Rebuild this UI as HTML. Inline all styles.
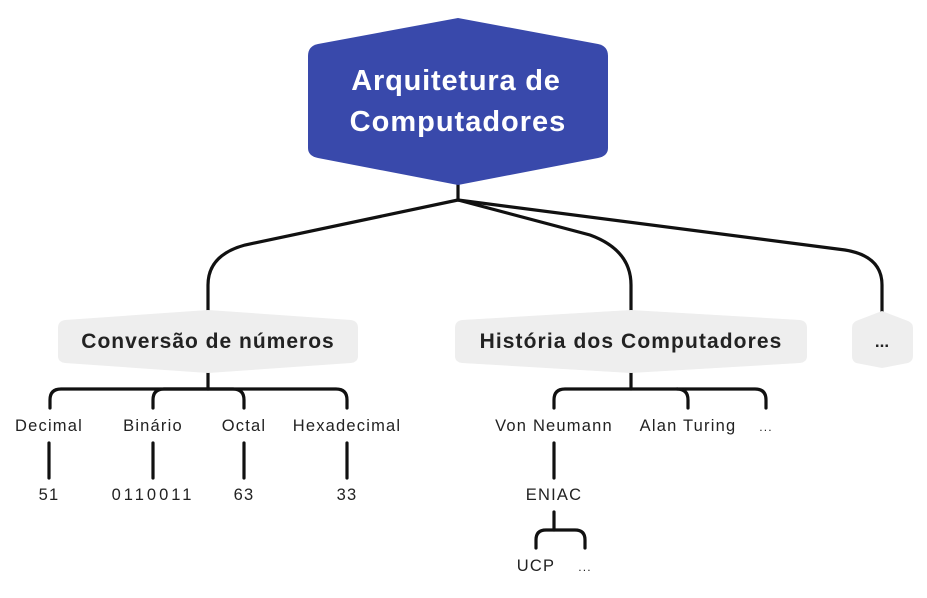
<!DOCTYPE html>
<html><head><meta charset="utf-8"><style>
body{margin:0;background:#fff}
text{font-family:"Liberation Sans",sans-serif}
</style></head><body>
<svg width="927" height="593" viewBox="0 0 927 593" xmlns="http://www.w3.org/2000/svg">
<rect width="927" height="593" fill="#fff"/>
<g fill="none" stroke="#111" stroke-width="3.2" stroke-linecap="round">
<path d="M458 183 V200"/>
<path d="M458 200 L245 245 Q208 255 208 285 V310"/>
<path d="M458 200 L590 235 Q631 250 631 285 V312"/>
<path d="M458 200 L845 250 Q882 256 882 285 V312"/>
<path d="M208 372 V389"/>
<path d="M50 408 V400 Q50 389 61 389 H336 Q347 389 347 400 V408"/>
<path d="M153 408 V400 Q153 389 164 389 H233 Q244 389 244 400 V408"/>
<path d="M49 443 V478 M153 443 V478 M244 443 V478 M347 443 V478"/>
<path d="M631 372 V389"/>
<path d="M554 408 V400 Q554 389 565 389 H755 Q766 389 766 400 V408"/>
<path d="M677 389 Q688 389 688 400 V408"/>
<path d="M554 443 V478"/>
<path d="M554 512 V530"/>
<path d="M536 548 V540 Q536 530 546 530 H575 Q585 530 585 540 V548"/>
</g>
<path d="M318 44 L458 18 L598 44 Q608 46 608 56 V148 Q608 156 598 158 L458 185 L318 158 Q308 156 308 148 V56 Q308 46 318 44 Z" fill="#3949ab"/>
<text x="456" y="90" font-size="29" font-weight="bold" fill="#fff" text-anchor="middle" letter-spacing="0.8">Arquitetura de</text>
<text x="458" y="131" font-size="29" font-weight="bold" fill="#fff" text-anchor="middle" letter-spacing="1">Computadores</text>
<path d="M65 320 L208 310 L351 320 Q358 321 358 328 V356 Q358 362 351 363 L208 373 L65 363 Q58 362 58 356 V328 Q58 321 65 320 Z" fill="#eeeeee"/>
<text x="208" y="348" font-size="21" font-weight="bold" fill="#222" text-anchor="middle" letter-spacing="1">Conversão de números</text>
<path d="M462 320 L631 310 L800 320 Q807 321 807 328 V356 Q807 362 800 363 L631 373 L462 363 Q455 362 455 356 V328 Q455 321 462 320 Z" fill="#eeeeee"/>
<text x="631" y="348" font-size="21" font-weight="bold" fill="#222" text-anchor="middle" letter-spacing="1.1">História dos Computadores</text>
<path d="M856 321 L882 311 L908 321 Q913 323 913 328 V356 Q913 361 908 363 L882 368 L856 363 Q852 361 852 356 V328 Q852 323 856 321 Z" fill="#eeeeee"/>
<text x="882" y="347" font-size="17" font-weight="bold" fill="#222" text-anchor="middle">...</text>
<g font-size="16.5" fill="#222" text-anchor="middle" letter-spacing="1.2">
<text x="49" y="431">Decimal</text>
<text x="153" y="431">Binário</text>
<text x="244" y="431">Octal</text>
<text x="347" y="431">Hexadecimal</text>
<text x="49" y="500">51</text>
<text x="153" y="500" letter-spacing="3">0110011</text>
<text x="244" y="500">63</text>
<text x="347" y="500">33</text>
<text x="554" y="431">Von Neumann</text>
<text x="688" y="431">Alan Turing</text>
<text x="766" y="431" font-size="12">...</text>
<text x="554" y="500">ENIAC</text>
<text x="536" y="571">UCP</text>
<text x="585" y="571" font-size="12">...</text>
</g>
</svg>
</body></html>
